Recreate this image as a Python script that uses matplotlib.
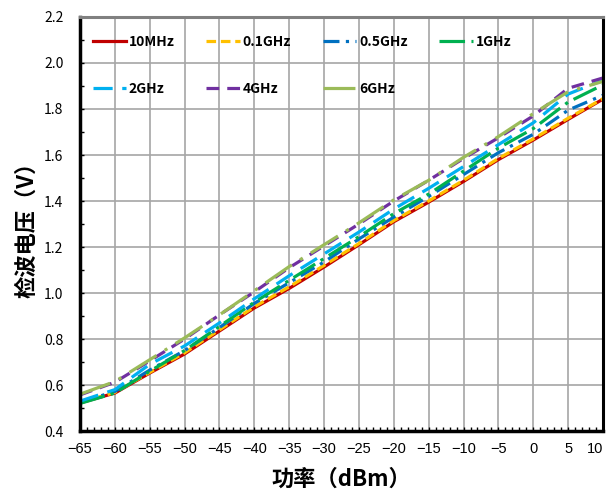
import matplotlib.pyplot as plt
from matplotlib.ticker import MultipleLocator, FuncFormatter

plt.rcParams['font.family'] = ['Noto Sans CJK SC', 'DejaVu Sans']

# input power (dBm)
power = [-65, -60, -55, -50, -45, -40, -35, -30, -25, -20, -15, -10, -5, 0, 5, 10]

# detector output voltage (V) for each frequency
v_10mhz = [0.522, 0.565, 0.652, 0.735, 0.835, 0.935, 1.020, 1.113, 1.210, 1.310,
           1.395, 1.485, 1.580, 1.665, 1.755, 1.843]
v_100mhz = [0.523, 0.568, 0.655, 0.740, 0.840, 0.940, 1.027, 1.120, 1.215, 1.315,
            1.400, 1.490, 1.585, 1.670, 1.760, 1.845]
v_500mhz = [0.525, 0.572, 0.665, 0.750, 0.850, 0.955, 1.045, 1.135, 1.235, 1.330,
            1.420, 1.515, 1.610, 1.690, 1.795, 1.860]
v_1ghz = [0.520, 0.565, 0.660, 0.750, 0.855, 0.960, 1.055, 1.150, 1.245, 1.345,
          1.430, 1.530, 1.630, 1.715, 1.830, 1.905]
v_2ghz = [0.530, 0.580, 0.690, 0.770, 0.870, 0.975, 1.075, 1.170, 1.265, 1.365,
          1.455, 1.550, 1.645, 1.740, 1.865, 1.925]
v_4ghz = [0.557, 0.612, 0.705, 0.800, 0.905, 1.005, 1.110, 1.205, 1.300, 1.400,
          1.490, 1.585, 1.675, 1.770, 1.890, 1.935]
v_6ghz = [0.560, 0.615, 0.710, 0.805, 0.905, 1.010, 1.115, 1.210, 1.305, 1.405,
          1.490, 1.590, 1.680, 1.780, 1.875, 1.920]

labels = ['10MHz', '0.1GHz', '0.5GHz', '1GHz', '2GHz', '4GHz', '6GHz']
series = [v_10mhz, v_100mhz, v_500mhz, v_1ghz, v_2ghz, v_4ghz, v_6ghz]
colors = ['#C00000', '#FFC000', '#0070C0', '#00B050', '#00B0F0', '#7030A0', '#9BBB59']
styles = ['-', (0, (3, 1.5)), (0, (5, 2, 1, 2)), (0, (8, 2, 1, 2)),
          (0, (6, 3)), (0, (4, 2.5)), (0, (10, 3, 1, 3))]

fig = plt.figure(figsize=(6.08, 4.94), dpi=100)
ax = fig.add_axes([0.1316, 0.1275, 0.8602, 0.8381])

lines = []
for vals, lab, c, ls in zip(series, labels, colors, styles):
    ln, = ax.plot(power, vals, color=c, linestyle=ls, linewidth=2.3, label=lab)
    lines.append(ln)

ax.set_xlim(-65, 10)
ax.set_ylim(0.4, 2.2)
ax.set_xticks(power)
ax.set_xticklabels(['%d' % p if p >= 0 else '\u2212%d' % -p for p in power],
                   family='Liberation Sans', fontsize=10.5)
ax.xaxis.set_minor_locator(MultipleLocator(1))
ax.yaxis.set_major_locator(MultipleLocator(0.2))
ax.yaxis.set_minor_locator(MultipleLocator(0.1))
ax.yaxis.set_major_formatter(FuncFormatter(lambda v, p: '%.1f' % v))

# keep the right-most label inside the canvas
ax.get_xticklabels()[-1].set_horizontalalignment('right')

ax.grid(True, which='major', color='#a6a6a6', linewidth=1.2)
ax.set_axisbelow(True)
ax.tick_params(which='both', direction='in', colors='black')
ax.tick_params(axis='y', labelsize=10)
ax.tick_params(which='major', length=3, width=1)
ax.tick_params(which='minor', length=3, width=1)
ax.tick_params(axis='x', pad=8)
ax.tick_params(axis='y', pad=12, left=True, right=False)
ax.tick_params(axis='x', top=False)

ax.spines['left'].set_linewidth(2.5)
ax.spines['bottom'].set_linewidth(2.5)
ax.spines['right'].set_linewidth(2.2)
ax.spines['top'].set_linewidth(2.2)
ax.spines['top'].set_color('#808080')

order = [0, 4, 1, 5, 2, 6, 3]
ax.legend([lines[i] for i in order], [labels[i] for i in order],
          ncol=4, loc='upper left', bbox_to_anchor=(0.0, 0.987),
          frameon=False, prop={'size': 10, 'weight': 'bold'},
          handlelength=2.4, columnspacing=2.3, labelspacing=2.35,
          handletextpad=0.2)

ax.set_xlabel('功率（dBm）', fontsize=16, fontweight='bold', labelpad=8)
ax.set_ylabel('检波电压（V）', fontsize=16, fontweight='bold', labelpad=4)

fig.savefig('out.png', dpi=100)
